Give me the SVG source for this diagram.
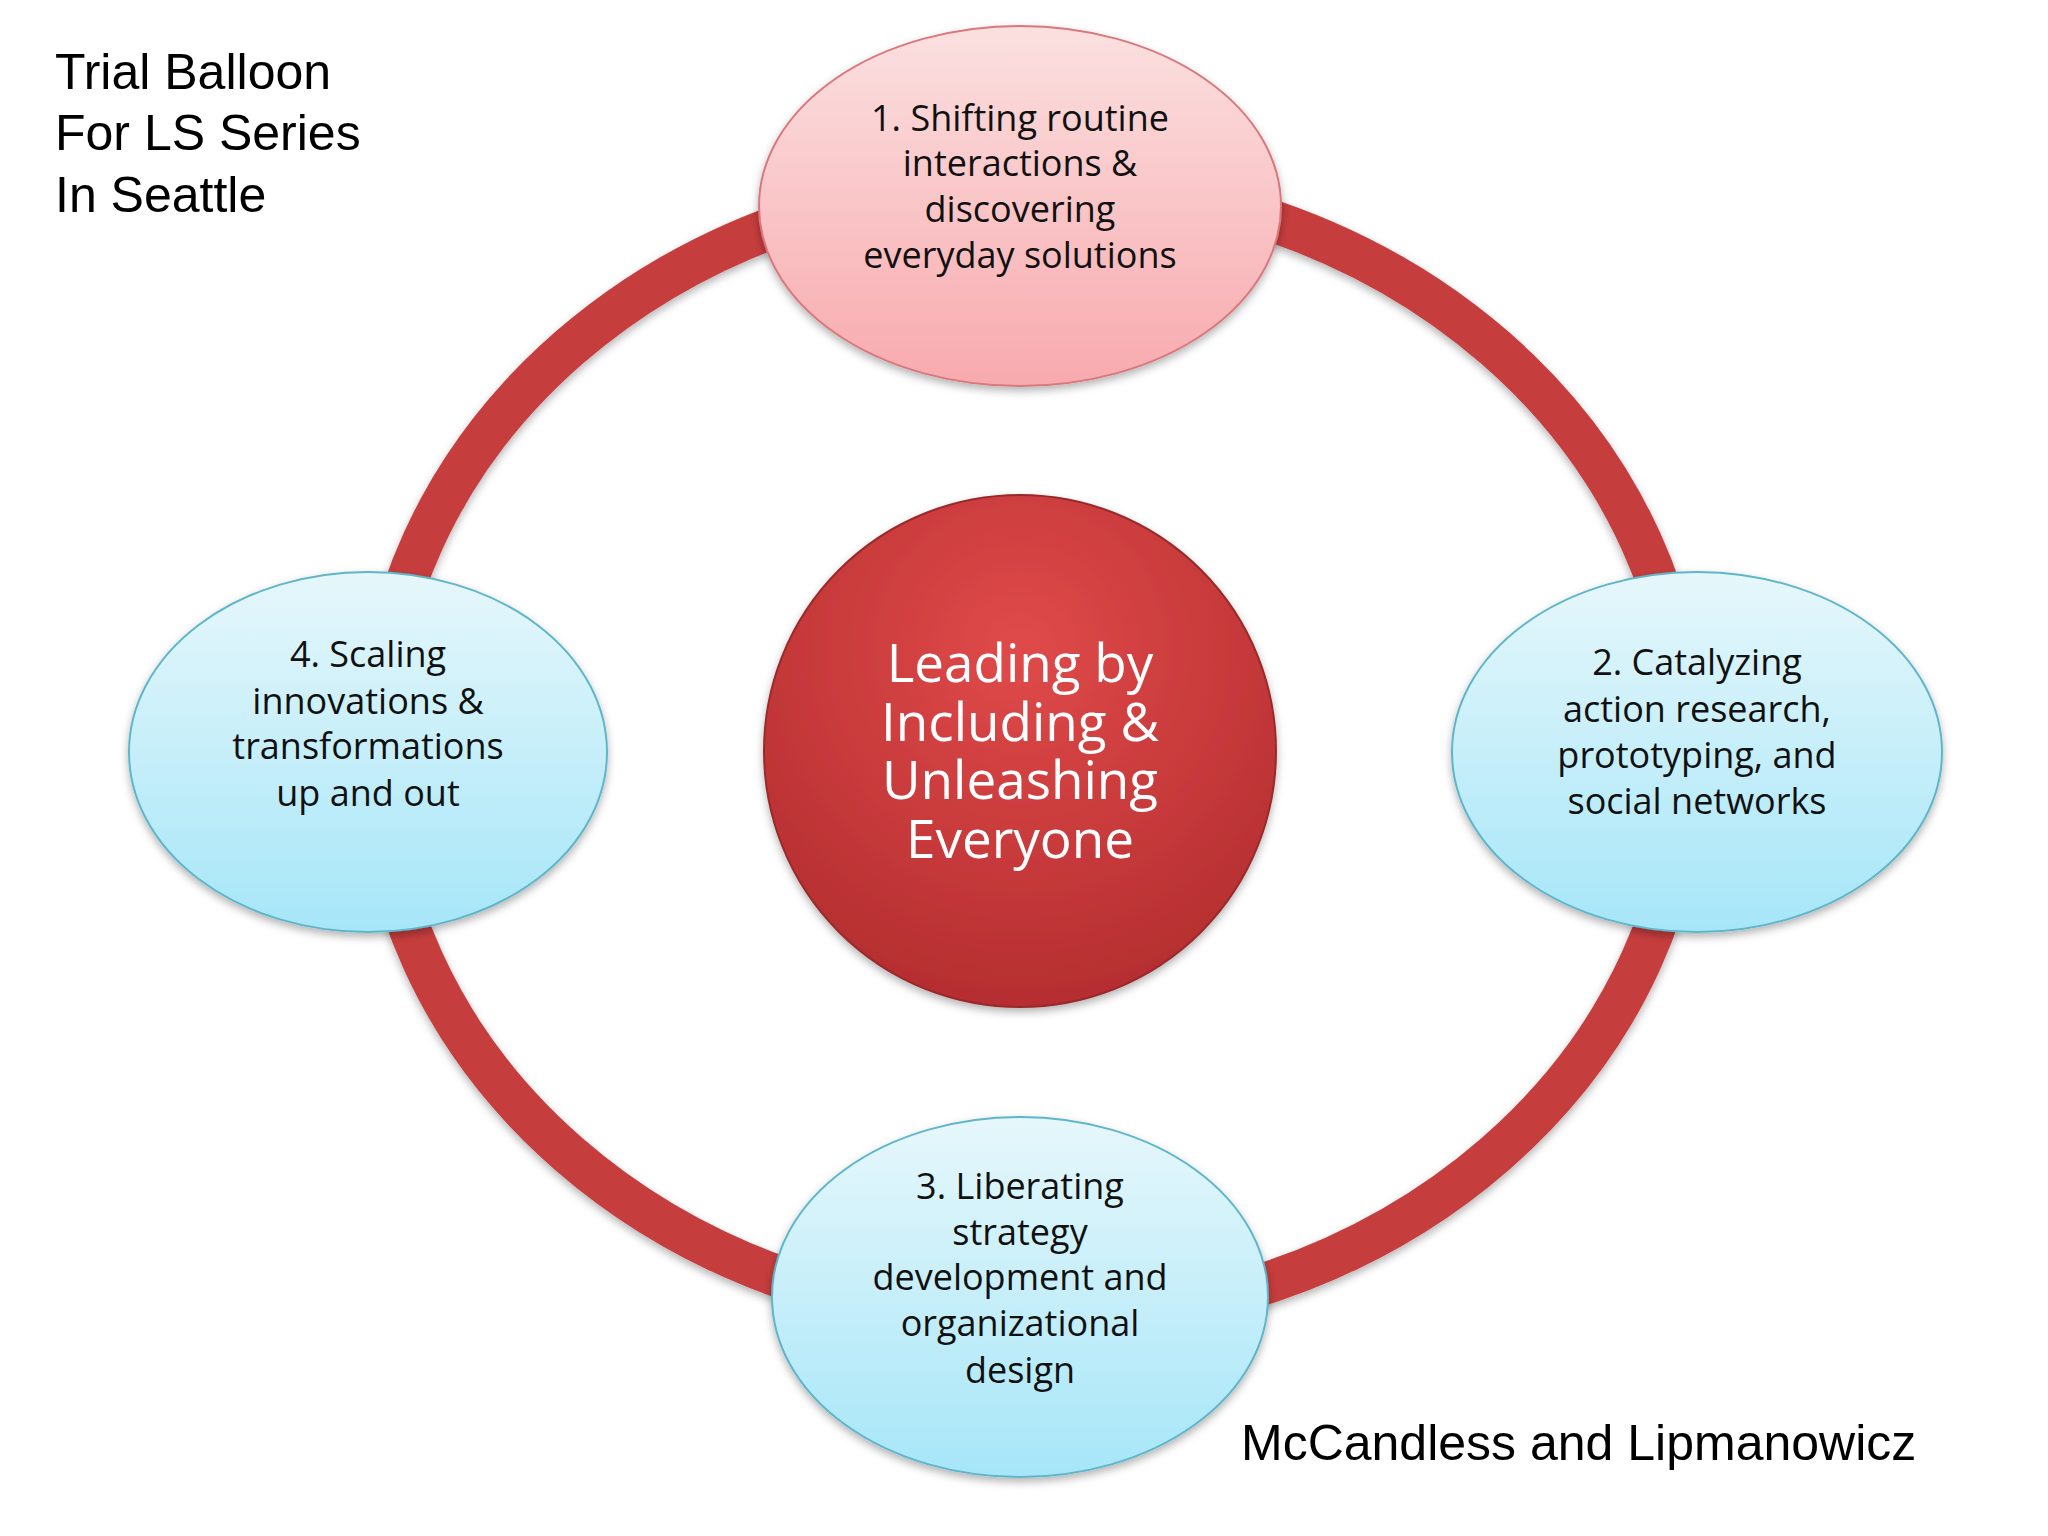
<svg xmlns="http://www.w3.org/2000/svg" width="2048" height="1536" viewBox="0 0 2048 1536">
<defs>
<linearGradient id="pink" x1="0" y1="0" x2="0" y2="1"><stop offset="0" stop-color="#fbe0e0"/><stop offset="1" stop-color="#f8aaae"/></linearGradient>
<linearGradient id="blue" x1="0" y1="0" x2="0" y2="1"><stop offset="0" stop-color="#e6f7fb"/><stop offset="1" stop-color="#a6e6f8"/></linearGradient>
<radialGradient id="red" cx="0.5" cy="0.3" r="0.7"><stop offset="0" stop-color="#e04a4a"/><stop offset="1" stop-color="#b52e30"/></radialGradient>
<filter id="sh" x="-20%" y="-20%" width="140%" height="140%"><feDropShadow dx="0" dy="4" stdDeviation="4" flood-color="#000" flood-opacity="0.3"/></filter>
<style>
.t{font-family:"Liberation Sans",Arial,sans-serif;fill:#000}
.n{font-family:"Open Sans","Liberation Sans",sans-serif;font-size:36px;fill:#111;text-anchor:middle}
.c{font-family:"Open Sans","Liberation Sans",sans-serif;font-size:53px;fill:#fff;text-anchor:middle}
.pk{fill:url(#pink);stroke:#d9787c;stroke-width:2;filter:url(#sh)}
.bl{fill:url(#blue);stroke:#5fb5c9;stroke-width:2;filter:url(#sh)}
</style>
</defs>
<rect width="2048" height="1536" fill="#fff"/>
<g id="connectors">
<ellipse cx="1032" cy="751" rx="655" ry="570" fill="none" stroke="#c63c3e" stroke-width="42" filter="url(#sh)"/>
</g>
<g id="title"><text class="t" font-size="50" x="55" y="89">Trial Balloon</text><text class="t" font-size="50" x="55" y="150">For LS Series</text><text class="t" font-size="50" x="55" y="212">In Seattle</text></g>
<g id="center"><circle cx="1020" cy="751" r="256" fill="url(#red)" stroke="#9a2a2c" stroke-width="2" filter="url(#sh)"/>
<text class="c" x="1020" y="682">Leading by</text><text class="c" x="1020" y="741">Including &amp;</text><text class="c" x="1020" y="799">Unleashing</text><text class="c" x="1020" y="858">Everyone</text></g>
<g id="n1"><ellipse class="pk" cx="1020" cy="206" rx="261" ry="180"/>
<text class="n" x="1020" y="131">1. Shifting routine</text><text class="n" x="1020" y="176">interactions &amp;</text><text class="n" x="1020" y="222">discovering</text><text class="n" x="1020" y="268">everyday solutions</text></g>
<g id="n2"><ellipse class="bl" cx="1697" cy="752" rx="245" ry="180"/>
<text class="n" x="1697" y="675">2. Catalyzing</text><text class="n" x="1697" y="722">action research,</text><text class="n" x="1697" y="768">prototyping, and</text><text class="n" x="1697" y="814">social networks</text></g>
<g id="n3"><ellipse class="bl" cx="1020" cy="1297" rx="248" ry="180"/>
<text class="n" x="1020" y="1199">3. Liberating</text><text class="n" x="1020" y="1245">strategy</text><text class="n" x="1020" y="1290">development and</text><text class="n" x="1020" y="1336">organizational</text><text class="n" x="1020" y="1383">design</text></g>
<g id="n4"><ellipse class="bl" cx="368" cy="752" rx="239" ry="180"/>
<text class="n" x="368" y="667">4. Scaling</text><text class="n" x="368" y="714">innovations &amp;</text><text class="n" x="368" y="759">transformations</text><text class="n" x="368" y="806">up and out</text></g>
<g id="credit"><text class="t" font-size="50" x="1241" y="1460">McCandless and Lipmanowicz</text></g>
</svg>
